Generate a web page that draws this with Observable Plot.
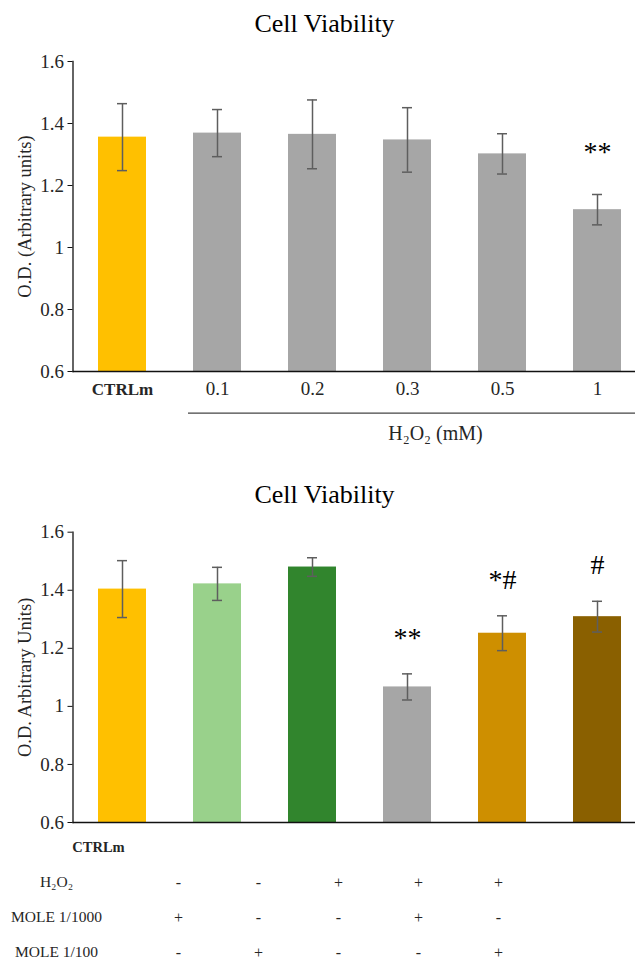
<!DOCTYPE html>
<html><head><meta charset="utf-8">
<script src="https://cdn.jsdelivr.net/npm/d3@7"></script>
<script src="https://cdn.jsdelivr.net/npm/@observablehq/plot@0.6"></script>
<style>
body{margin:0;background:#fff;font-family:"Liberation Serif","Times New Roman",serif;}
#wrap{width:635px;}
.title{height:48px;line-height:48px;text-align:center;font-size:26px;color:#000;padding-left:14px;box-sizing:border-box;}
.gap{height:20px;}
svg{display:block;}
</style></head><body><div id="wrap"></div>
<script>
// ---------- data ----------
const topTitle = "Cell Viability";
const topCats = ["CTRLm", "0.1", "0.2", "0.3", "0.5", "1"];
const topMeans = [1.356, 1.369, 1.365, 1.347, 1.302, 1.122];
const topErrs = [0.108, 0.076, 0.111, 0.104, 0.065, 0.049];
const topSig = ["", "", "", "", "", "**"];
const topColors = ["#FFC000", "#A6A6A6", "#A6A6A6", "#A6A6A6", "#A6A6A6", "#A6A6A6"];
const topYLabel = "O.D. (Arbitrary units)";
const topGroupLabel = "H₂O₂ (mM)";

const botTitle = "Cell Viability";
const botCats = ["CTRLm", "MOLE 1/1000", "MOLE 1/100", "H2O2", "H2O2 + MOLE 1/1000", "H2O2 + MOLE 1/100"];
const botMeans = [1.404, 1.422, 1.480, 1.067, 1.252, 1.309];
const botErrs = [0.098, 0.057, 0.032, 0.045, 0.060, 0.053];
const botSig = ["", "", "", "**", "*#", "#"];
const botColors = ["#FFC000", "#99D18B", "#31852D", "#A6A6A6", "#CE8F00", "#8A6000"];
const botYLabel = "O.D. Arbitrary Units)";

const yTicks = [0.6, 0.8, 1, 1.2, 1.4, 1.6];

const tableRows = ["CTRLm", "H₂O₂", "MOLE 1/1000", "MOLE 1/100"];
const h2o2Signs = ["-", "-", "+", "+", "+"];
const mole1000Signs = ["+", "-", "-", "+", "-"];
const mole100Signs = ["-", "+", "-", "-", "+"];

// ---------- helpers ----------
const FONT = "'Liberation Serif', 'Times New Roman', serif";
const TXT = "#262626";
const wrap = document.getElementById("wrap");
function addTitle(t) { const d = document.createElement("div"); d.className = "title"; d.textContent = t; wrap.appendChild(d); }
function addGap() { const d = document.createElement("div"); d.className = "gap"; wrap.appendChild(d); }

function barChart({cats, means, errs, sig, colors, ylabel, height, marginTop, marginBottom, sigDy, extra = []}) {
  const data = cats.map((c, i) => ({cat: c, mean: means[i], err: errs[i], sig: sig[i], color: colors[i]}));
  return Plot.plot({
    width: 635, height, marginTop, marginBottom, marginLeft: 72.5, marginRight: 0,
    style: {fontFamily: FONT, color: TXT, background: "#fff", overflow: "visible"},
    color: {type: "identity"},
    x: {domain: cats, range: [73.4, 644.6], paddingInner: 0.5, paddingOuter: 0.25, axis: null},
    y: {domain: [0.6, 1.6], axis: null},
    marks: [
      Plot.barY(data, {x: "cat", y1: 0.6, y2: "mean", fill: "color"}),
      Plot.ruleX(data, {x: "cat", y1: d => d.mean - d.err, y2: d => d.mean + d.err, stroke: "#5e5e5e", strokeWidth: 1.5}),
      Plot.tickY(data, {x: "cat", y: d => d.mean + d.err, insetLeft: 19, insetRight: 19, stroke: "#5e5e5e", strokeWidth: 1.5}),
      Plot.tickY(data, {x: "cat", y: d => d.mean - d.err, insetLeft: 19, insetRight: 19, stroke: "#5e5e5e", strokeWidth: 1.5}),
      Plot.text(data, {x: "cat", y: d => d.mean + d.err, text: "sig", dy: sigDy, fontSize: 28, fill: "#000", fontFamily: FONT}),
      Plot.ruleY([0.6], {stroke: "#111", strokeWidth: 1.3}),
      Plot.frame({anchor: "left", stroke: "#111", strokeWidth: 1.3}),
      Plot.axisY({ticks: yTicks, tickFormat: d => String(d), tickSize: 5, tickPadding: 4, fontSize: 19,
        fontFamily: FONT, label: null, stroke: "#111", fill: TXT}),
      Plot.text([ylabel], {frameAnchor: "left", textAnchor: "middle", dx: -47.5, rotate: -90, fontSize: 18.5, fill: TXT, fontFamily: FONT}),
      ...extra
    ]
  });
}

// ---------- top chart ----------
addTitle(topTitle);
wrap.appendChild(barChart({
  cats: topCats, means: topMeans, errs: topErrs, sig: topSig, colors: topColors, ylabel: topYLabel,
  height: 403, marginTop: 13, marginBottom: 80, sigDy: -42,
  extra: [
    Plot.text([topCats[0]], {x: d => d, frameAnchor: "bottom", dy: 23, fontSize: 17, fontWeight: "bold", fill: TXT, fontFamily: FONT}),
    Plot.text(topCats.slice(1), {x: d => d, frameAnchor: "bottom", dy: 23, fontSize: 19, fill: TXT, fontFamily: FONT}),
    Plot.ruleY([0.6], {dy: 41.7, insetLeft: 115.5, stroke: "#444", strokeWidth: 1.3}),
    Plot.text([topGroupLabel], {x: () => topCats[3], frameAnchor: "bottom", dy: 68, dx: 28, fontSize: 20, fill: TXT, fontFamily: FONT})
  ]
}));

// ---------- bottom chart ----------
addGap();
addTitle(botTitle);
wrap.appendChild(barChart({
  cats: botCats, means: botMeans, errs: botErrs, sig: botSig, colors: botColors, ylabel: botYLabel,
  height: 313, marginTop: 12.7, marginBottom: 10, sigDy: -36
}));

// ---------- condition table ----------
const signRows = [[tableRows[1], h2o2Signs], [tableRows[2], mole1000Signs], [tableRows[3], mole100Signs]];
const signData = signRows.flatMap(([row, s]) => s.map((v, i) => ({row, col: i + 1, s: v})));
wrap.appendChild(Plot.plot({
  width: 635, height: 129, margin: 0,
  style: {fontFamily: FONT, color: TXT, background: "#fff"},
  x: {domain: [0, 5], range: [98, 498], axis: null},
  y: {type: "point", domain: tableRows, range: [15, 120], padding: 0, axis: null},
  marks: [
    Plot.text([tableRows[0]], {x: () => 0, y: d => d, fontSize: 14.5, fontWeight: "bold", fill: TXT, fontFamily: FONT}),
    Plot.text(tableRows.slice(1), {y: d => d, frameAnchor: "left", textAnchor: "middle", dx: 56, fontSize: 15.5, fill: TXT, fontFamily: FONT}),
    Plot.text(signData, {x: "col", y: "row", text: "s", fontSize: 16, fill: TXT, fontFamily: FONT})
  ]
}));
</script></body></html>
